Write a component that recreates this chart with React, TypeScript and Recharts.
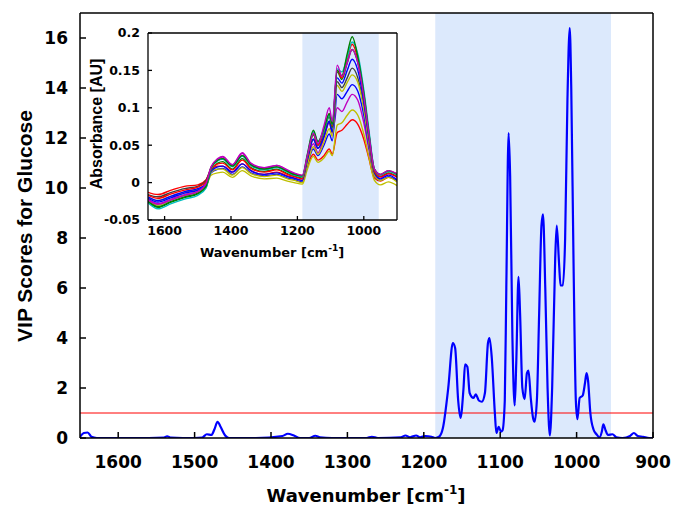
import { ComposedChart, LineChart, Line, XAxis, YAxis, ReferenceArea, ReferenceLine } from 'recharts'

// main panel: VIP scores [wavenumber, score]
const vipPoints: [number, number][] = [
  [1650, 0.05], [1645, 0.2], [1640, 0.22], [1635, 0.05], [1628, 0], [1600, 0], [1560, 0],
  [1540, 0.02], [1536, 0.07], [1531, 0.02], [1500, 0], [1490, 0.02], [1484, 0.15], [1478, 0.12],
  [1474, 0.35], [1470, 0.65], [1466, 0.45], [1460, 0.1], [1455, 0], [1420, 0], [1385, 0.08],
  [1378, 0.17], [1370, 0.1], [1362, 0], [1350, 0], [1342, 0.09], [1336, 0.03], [1320, 0],
  [1275, 0], [1268, 0.05], [1260, 0], [1230, 0.03], [1224, 0.1], [1218, 0.03], [1210, 0.1],
  [1205, 0.03], [1198, 0.08], [1190, 0.05], [1185, 0], [1180, 0.05], [1175, 0.4], [1168, 2.0],
  [1162, 3.8], [1159, 3.6], [1155, 1.5], [1152, 0.8], [1148, 2.0], [1146, 2.95], [1143, 2.85],
  [1140, 1.8], [1135, 1.6], [1132, 1.75], [1128, 1.5], [1124, 1.45], [1120, 1.8], [1116, 3.8],
  [1114, 4.0], [1111, 3.2], [1107, 1.0], [1105, 0.2], [1102, 0.45], [1099, 0.25], [1097, 0.3],
  [1094, 1.5], [1092, 6.0], [1089, 12.2], [1087, 10.5], [1084, 4.0], [1081, 1.3], [1079, 3.0],
  [1076, 6.45], [1074, 5.0], [1071, 2.0], [1068, 1.55], [1065, 2.6], [1063, 2.7], [1060, 1.6],
  [1057, 0.8], [1055, 0.65], [1052, 1.5], [1049, 5.0], [1046, 8.5], [1044, 8.95], [1041, 6.0],
  [1038, 2.0], [1035, 0.1], [1032, 2.0], [1028, 7.2], [1026, 8.5], [1023, 7.0], [1021, 6.1],
  [1018, 6.1], [1015, 8.0], [1012, 13.5], [1009, 16.4], [1007, 14.0], [1004, 7.0], [1001, 1.5],
  [999, 0.75], [996, 1.6], [992, 1.7], [989, 2.2], [987, 2.6], [985, 2.3], [982, 1.0],
  [978, 0.35], [974, 0.15], [970, 0.03], [967, 0.25], [965, 0.55], [962, 0.3], [959, 0.12],
  [953, 0.15], [948, 0.03], [940, 0], [930, 0.08], [925, 0.2], [920, 0.08], [913, 0.05],
  [905, 0], [900, 0],
]
const mainXTicks = [1600, 1500, 1400, 1300, 1200, 1100, 1000, 900]
const mainYTicks = [0, 2, 4, 6, 8, 10, 12, 14, 16]
const vipThreshold = 1
const selectedRange = [1185, 955]

// inset: absorbance spectra on a shared wavenumber grid
const insetWn = [1650, 1620, 1580, 1540, 1500, 1475, 1460, 1440, 1425, 1396, 1366, 1340, 1300, 1262, 1230, 1210, 1185,
  1170, 1152, 1138, 1120, 1104, 1095, 1080, 1066, 1050, 1035, 1018, 1000, 985, 968, 950, 926, 900]
const specRed = [-0.013, -0.016, -0.010, -0.005, -0.003, 0.004, 0.017, 0.022, 0.022, 0.014, 0.025, 0.016, 0.011, 0.014, 0.009, 0.006, 0.003,
  0.022, 0.038, 0.030, 0.036, 0.045, 0.038, 0.067, 0.070, 0.078, 0.084, 0.078, 0.058, 0.033, 0.006, 0.002, 0.007, 0.003]
const specYellow = [-0.020, -0.024, -0.018, -0.013, -0.009, -0.004, 0.010, 0.013, 0.014, 0.007, 0.016, 0.009, 0.005, 0.006, 0.002, 0.000, -0.002,
  0.018, 0.035, 0.027, 0.033, 0.042, 0.036, 0.077, 0.080, 0.090, 0.097, 0.090, 0.065, 0.035, 0.003, -0.003, 0.001, -0.004]
const specMagenta = [-0.022, -0.028, -0.022, -0.016, -0.012, -0.002, 0.020, 0.031, 0.034, 0.023, 0.039, 0.025, 0.019, 0.023, 0.016, 0.012, 0.008,
  0.030, 0.052, 0.040, 0.060, 0.080, 0.066, 0.100, 0.095, 0.108, 0.118, 0.110, 0.080, 0.045, 0.012, 0.006, 0.012, 0.007]
const specBlue = [-0.019, -0.024, -0.018, -0.012, -0.008, -0.002, 0.013, 0.018, 0.019, 0.011, 0.021, 0.013, 0.009, 0.011, 0.006, 0.004, 0.001,
  0.024, 0.045, 0.036, 0.050, 0.065, 0.056, 0.118, 0.112, 0.122, 0.131, 0.122, 0.090, 0.050, 0.010, 0.003, 0.008, 0.002]
const specGray = [-0.016, -0.019, -0.013, -0.008, -0.005, 0.003, 0.020, 0.030, 0.032, 0.022, 0.036, 0.023, 0.018, 0.021, 0.015, 0.012, 0.009,
  0.032, 0.058, 0.046, 0.062, 0.082, 0.068, 0.135, 0.127, 0.140, 0.153, 0.140, 0.102, 0.058, 0.016, 0.010, 0.015, 0.011]
const specYellow2 = [-0.024, -0.030, -0.023, -0.017, -0.012, -0.004, 0.014, 0.018, 0.018, 0.010, 0.020, 0.012, 0.008, 0.010, 0.005, 0.003, 0.000,
  0.024, 0.048, 0.038, 0.054, 0.072, 0.062, 0.130, 0.122, 0.134, 0.144, 0.134, 0.098, 0.054, 0.010, 0.003, 0.007, 0.001]
const specBlue2 = [-0.021, -0.026, -0.020, -0.014, -0.010, -0.002, 0.015, 0.021, 0.022, 0.014, 0.025, 0.016, 0.011, 0.013, 0.008, 0.006, 0.003,
  0.030, 0.058, 0.046, 0.062, 0.082, 0.068, 0.140, 0.133, 0.150, 0.165, 0.150, 0.108, 0.060, 0.013, 0.005, 0.010, 0.004]
const specGreen = [-0.026, -0.033, -0.026, -0.020, -0.015, -0.006, 0.017, 0.026, 0.028, 0.018, 0.032, 0.020, 0.015, 0.018, 0.012, 0.009, 0.006,
  0.034, 0.064, 0.050, 0.068, 0.088, 0.074, 0.148, 0.138, 0.160, 0.178, 0.160, 0.115, 0.064, 0.015, 0.008, 0.013, 0.008]
const specRed2 = [-0.017, -0.021, -0.015, -0.010, -0.006, 0.001, 0.018, 0.025, 0.026, 0.017, 0.030, 0.019, 0.014, 0.017, 0.011, 0.008, 0.005,
  0.034, 0.066, 0.050, 0.070, 0.092, 0.076, 0.150, 0.140, 0.165, 0.185, 0.165, 0.118, 0.066, 0.015, 0.008, 0.012, 0.008]
const specCyan = [-0.027, -0.035, -0.028, -0.022, -0.017, -0.007, 0.019, 0.029, 0.031, 0.021, 0.035, 0.023, 0.017, 0.020, 0.014, 0.010, 0.008,
  0.036, 0.068, 0.054, 0.070, 0.090, 0.078, 0.152, 0.148, 0.168, 0.188, 0.172, 0.124, 0.072, 0.018, 0.010, 0.015, 0.010]
const specGreen2 = [-0.025, -0.032, -0.025, -0.019, -0.014, -0.005, 0.020, 0.030, 0.032, 0.022, 0.036, 0.024, 0.018, 0.021, 0.015, 0.011, 0.009,
  0.038, 0.070, 0.055, 0.072, 0.092, 0.078, 0.150, 0.143, 0.172, 0.195, 0.168, 0.120, 0.068, 0.018, 0.011, 0.016, 0.011]
const specMagenta2 = [-0.023, -0.029, -0.023, -0.017, -0.012, -0.001, 0.021, 0.032, 0.035, 0.024, 0.040, 0.026, 0.020, 0.023, 0.017, 0.013, 0.010,
  0.036, 0.066, 0.052, 0.076, 0.100, 0.082, 0.157, 0.142, 0.160, 0.178, 0.160, 0.115, 0.066, 0.018, 0.011, 0.016, 0.012]
const insetXTicks = [1600, 1400, 1200, 1000]
const insetYTicks = [-0.05, 0, 0.05, 0.1, 0.15, 0.2]

const spectra = [
  { key: 'red', values: specRed, color: '#ff0000' },
  { key: 'yellow', values: specYellow, color: '#bfbf00' },
  { key: 'magenta', values: specMagenta, color: '#bf00bf' },
  { key: 'blue', values: specBlue, color: '#0000ff' },
  { key: 'gray', values: specGray, color: '#404040' },
  { key: 'yellow2', values: specYellow2, color: '#bfbf00' },
  { key: 'blue2', values: specBlue2, color: '#0000ff' },
  { key: 'green', values: specGreen, color: '#008000' },
  { key: 'red2', values: specRed2, color: '#ff0000' },
  { key: 'cyan', values: specCyan, color: '#00bfbf' },
  { key: 'green2', values: specGreen2, color: '#008000' },
  { key: 'magenta2', values: specMagenta2, color: '#bf00bf' },
]

const vipData = vipPoints.map(([wn, vip]) => ({ wn, vip }))
const insetData = insetWn.map((wn, i) => {
  const row: any = { wn }
  spectra.forEach(s => { row[s.key] = s.values[i] })
  return row
})

const SHADE = '#dce9fc'
const tickFont = { fontFamily: 'DejaVu Sans', fontWeight: 700, fill: '#000' }

export default function App() {
  return (
    <div style={{ position: 'absolute', left: 0, top: 0, width: 674, height: 507, background: '#fff' }}>
      <ComposedChart width={674} height={507} data={vipData} margin={{ top: 12, right: 20, left: 20, bottom: 19 }}>
        <ReferenceArea x1={selectedRange[0]} x2={selectedRange[1]} y1={0} y2={17} fill={SHADE} fillOpacity={1} stroke="none" />
        <XAxis type="number" dataKey="wn" domain={[900, 1650]} reversed allowDataOverflow ticks={mainXTicks}
          height={50} tickSize={-6} tickMargin={24} stroke="#000" strokeWidth={1.5}
          tick={{ ...tickFont, fontSize: 17 }}
          label={{
            content: () => (
              <text x={366} y={502} textAnchor="middle" fontFamily="DejaVu Sans" fontWeight={700} fontSize={18} fill="#000">
                Wavenumber [cm<tspan dy={-8} fontSize={12}>-1</tspan><tspan dy={8}>]</tspan>
              </text>
            ),
          }} />
        <XAxis xAxisId="top" orientation="top" type="number" dataKey="wn" domain={[900, 1650]} reversed allowDataOverflow
          ticks={mainXTicks} height={1} tickSize={-6} tick={false} stroke="#000" strokeWidth={1.5} />
        <YAxis type="number" domain={[0, 17]} ticks={mainYTicks} allowDataOverflow width={60} tickSize={-6} tickMargin={18}
          stroke="#000" strokeWidth={1.5} tick={{ ...tickFont, fontSize: 17 }}
          label={{
            content: () => (
              <text x={32} y={226} transform="rotate(-90 32 226)" textAnchor="middle" fontFamily="Liberation Sans"
                fontWeight={700} fontSize={21} fill="#000">
                VIP Scores for Glucose
              </text>
            ),
          }} />
        <YAxis yAxisId="right" orientation="right" type="number" domain={[0, 17]} ticks={mainYTicks} width={1}
          tickSize={-6} tick={false} stroke="#000" strokeWidth={1.5} />
        <ReferenceLine y={vipThreshold} stroke="#ff0000" strokeWidth={1} />
        <Line type="monotone" dataKey="vip" stroke="#0000ff" strokeWidth={2.2} dot={false} isAnimationActive={false} />
      </ComposedChart>

      <div style={{ position: 'absolute', left: 80, top: 20, width: 330, height: 255 }}>
        <LineChart width={330} height={255} data={insetData} margin={{ top: 12, right: 12, left: 28, bottom: 25 }}>
          <ReferenceArea x1={selectedRange[0]} x2={selectedRange[1]} y1={-0.05} y2={0.2} fill={SHADE} fillOpacity={1} stroke="none" />
          <XAxis type="number" dataKey="wn" domain={[900, 1650]} reversed allowDataOverflow ticks={insetXTicks}
            height={30} tickSize={-4} tickMargin={10} stroke="#000" strokeWidth={1.3}
            tick={{ ...tickFont, fontSize: 12.5 }}
            label={{
              content: () => (
                <text x={192} y={237} textAnchor="middle" fontFamily="DejaVu Sans" fontWeight={700} fontSize={13} fill="#000">
                  Wavenumber [cm<tspan dy={-6} fontSize={9}>-1</tspan><tspan dy={6}>]</tspan>
                </text>
              ),
            }} />
          <XAxis xAxisId="top" orientation="top" type="number" dataKey="wn" domain={[900, 1650]} reversed allowDataOverflow
            ticks={insetXTicks} height={1} tickSize={-4} tick={false} stroke="#000" strokeWidth={1.3} />
          <YAxis type="number" domain={[-0.05, 0.2]} ticks={insetYTicks} allowDataOverflow width={40} tickSize={-4} tickMargin={12}
            stroke="#000" strokeWidth={1.3} tick={{ ...tickFont, fontSize: 12.5 }}
            tickFormatter={(v: number) => String(v)}
            label={{
              content: () => (
                <text x={22} y={104} transform="rotate(-90 22 104)" textAnchor="middle" fontFamily="Liberation Sans"
                  fontWeight={700} fontSize={16} fill="#000">
                  Absorbance [AU]
                </text>
              ),
            }} />
          <YAxis yAxisId="right" orientation="right" type="number" domain={[-0.05, 0.2]} ticks={insetYTicks} width={1}
            tickSize={-4} tick={false} stroke="#000" strokeWidth={1.3} />
          {spectra.map(s => (
            <Line key={s.key} type="monotone" dataKey={s.key} stroke={s.color} strokeWidth={1.4} dot={false} isAnimationActive={false} />
          ))}
        </LineChart>
      </div>
    </div>
  )
}
